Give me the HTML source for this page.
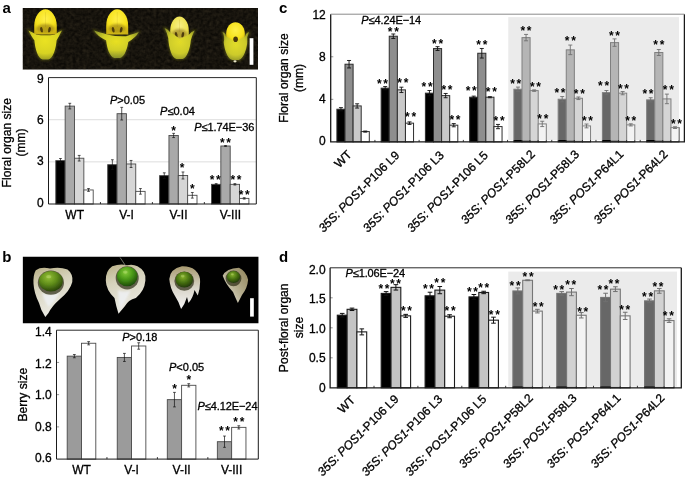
<!DOCTYPE html>
<html lang="en"><head><meta charset="utf-8"><title>Figure</title>
<style>
html,body{margin:0;padding:0;background:#fff;}
svg{display:block;}
text{font-family:"Liberation Sans",sans-serif;fill:#000;stroke:#000;stroke-width:0.3px;}
.pl{font-weight:bold;font-size:15px;fill:#000;stroke:none;}
.st{font-weight:bold;font-size:12px;letter-spacing:1.7px;fill:#000;stroke:none;}
</style></head><body>
<svg width="685" height="480" viewBox="0 0 685 480">
<defs>
<filter id="b1" x="-20%" y="-20%" width="140%" height="140%"><feGaussianBlur stdDeviation="0.55"/></filter>
<filter id="b2" x="-30%" y="-30%" width="160%" height="160%"><feGaussianBlur stdDeviation="1.3"/></filter>
<filter id="noise" x="0" y="0" width="100%" height="100%"><feTurbulence type="fractalNoise" baseFrequency="0.3" numOctaves="2" seed="3" result="n"/><feColorMatrix in="n" type="matrix" values="0 0 0 0 0.16  0 0 0 0 0.12  0 0 0 0 0.06  0.9 0.9 0 0 -0.55"/></filter>
<radialGradient id="pet" cx="50%" cy="38%" r="70%"><stop offset="0" stop-color="#fff04a"/><stop offset="0.6" stop-color="#f6e21c"/><stop offset="1" stop-color="#c9ae12"/></radialGradient>
<radialGradient id="pet2" cx="50%" cy="40%" r="70%"><stop offset="0" stop-color="#f8ef86"/><stop offset="0.6" stop-color="#efe352"/><stop offset="1" stop-color="#c2b22a"/></radialGradient>
<radialGradient id="sep" cx="50%" cy="36%" r="72%"><stop offset="0" stop-color="#eae222"/><stop offset="0.6" stop-color="#d8d324"/><stop offset="1" stop-color="#8c8e22"/></radialGradient>
<radialGradient id="sep2" cx="50%" cy="40%" r="66%"><stop offset="0" stop-color="#e8e022"/><stop offset="0.5" stop-color="#d0ce28"/><stop offset="1" stop-color="#77822a"/></radialGradient>
<radialGradient id="sep3" cx="50%" cy="45%" r="68%"><stop offset="0" stop-color="#e2dc28"/><stop offset="0.55" stop-color="#cdcb2c"/><stop offset="1" stop-color="#7c8224"/></radialGradient>
<radialGradient id="ber" cx="40%" cy="30%" r="72%"><stop offset="0" stop-color="#94c036"/><stop offset="0.5" stop-color="#5f8c1a"/><stop offset="1" stop-color="#26400a"/></radialGradient>
<radialGradient id="ber2" cx="42%" cy="30%" r="72%"><stop offset="0" stop-color="#84cc3a"/><stop offset="0.5" stop-color="#489616"/><stop offset="1" stop-color="#1a4608"/></radialGradient>
<radialGradient id="ber3" cx="42%" cy="32%" r="72%"><stop offset="0" stop-color="#86b22c"/><stop offset="0.5" stop-color="#487212"/><stop offset="1" stop-color="#1e3208"/></radialGradient>
<linearGradient id="husk" x1="0" y1="0" x2="0.3" y2="1"><stop offset="0" stop-color="#b9b086"/><stop offset="0.4" stop-color="#d6d2bc"/><stop offset="1" stop-color="#ecebe4"/></linearGradient>
<linearGradient id="husk3" x1="0" y1="0" x2="0" y2="1"><stop offset="0" stop-color="#a89a70"/><stop offset="0.5" stop-color="#d8d4c8"/><stop offset="1" stop-color="#f4f4f4"/></linearGradient>
<linearGradient id="husk4" x1="1" y1="0" x2="0" y2="1"><stop offset="0" stop-color="#8f8258"/><stop offset="0.55" stop-color="#b9b294"/><stop offset="1" stop-color="#eeeeea"/></linearGradient>
</defs>
<rect width="685" height="480" fill="#fff"/>

<text class="pl" x="2.4" y="13.1">a</text>
<text class="pl" x="2.2" y="261.6">b</text>
<text class="pl" x="279" y="13.2">c</text>
<text class="pl" x="279" y="261.75">d</text>
<rect x="22.8" y="8" width="235.2" height="61.5" fill="#0d0b07"/>
<rect x="22.8" y="8" width="235.2" height="61.5" fill="#1a140a" opacity="0.3" filter="url(#noise)"/>
<g filter="url(#b1)"><path d="M28.4 30.5 Q31.9 31.7 36.5 34.7 Q45.5 36.0 54.5 34.7 Q58.4 31.7 61.9 30.5 Q59.4 35.5 56.6 40.5 C56.0 48.5 53.1 58.7 48.4 59.5 L42.6 59.5 C37.9 58.7 35.0 48.5 34.4 40.5 Q30.9 35.5 28.4 30.5Z" fill="none" stroke="#9a9a22" stroke-width="1.6" opacity="0.5" filter="url(#b2)"/><path d="M34.2 34.5 V25.9 C34.2 16.2 39.9 9.2 45.5 9.2 C51.1 9.2 56.8 16.2 56.8 25.9 V34.5Z" fill="url(#pet)"/><path d="M45.5 12.2 V27.0" stroke="#b79a10" stroke-width="0.6" opacity="0.35"/><ellipse cx="45.5" cy="28.5" rx="9.0" ry="4.5" fill="#7a5e10" opacity="0.5" filter="url(#b2)"/><ellipse cx="41.5" cy="29.8" rx="1.3" ry="2.8" fill="#3d2c08" opacity="0.85" transform="rotate(-12 41.5 29.8)"/><ellipse cx="49.5" cy="29.8" rx="1.3" ry="2.8" fill="#3d2c08" opacity="0.85" transform="rotate(12 49.5 29.8)"/><path d="M28.4 30.5 Q31.9 31.7 36.5 34.7 Q45.5 36.0 54.5 34.7 Q58.4 31.7 61.9 30.5 Q59.4 35.5 56.6 40.5 C56.0 48.5 53.1 58.7 48.4 59.5 L42.6 59.5 C37.9 58.7 35.0 48.5 34.4 40.5 Q30.9 35.5 28.4 30.5Z" fill="url(#sep)"/></g>
<g filter="url(#b1)"><path d="M94.1 30.5 Q97.6 31.7 108.2 34.7 Q117.2 36.8 126.2 36.2 Q135.3 33.2 138.8 32.0 Q136.3 37.0 128.3 42.0 C127.7 47.0 124.8 57.2 120.1 58.0 L114.3 58.0 C109.6 57.2 106.7 47.0 106.1 40.5 Q96.6 35.5 94.1 30.5Z" fill="none" stroke="#9a9a22" stroke-width="1.6" opacity="0.5" filter="url(#b2)"/><path d="M106.2 34.5 V25.7 C106.2 16.1 111.7 9.2 117.2 9.2 C122.7 9.2 128.2 16.1 128.2 25.7 V34.5Z" fill="url(#pet)"/><path d="M117.2 12.2 V27.0" stroke="#b79a10" stroke-width="0.6" opacity="0.35"/><ellipse cx="117.2" cy="28.5" rx="8.8" ry="4.5" fill="#7a5e10" opacity="0.5" filter="url(#b2)"/><ellipse cx="113.2" cy="29.8" rx="1.3" ry="2.8" fill="#3d2c08" opacity="0.85" transform="rotate(-12 113.2 29.8)"/><ellipse cx="121.2" cy="29.8" rx="1.3" ry="2.8" fill="#3d2c08" opacity="0.85" transform="rotate(12 121.2 29.8)"/><path d="M94.1 30.5 Q97.6 31.7 108.2 34.7 Q117.2 36.8 126.2 36.2 Q135.3 33.2 138.8 32.0 Q136.3 37.0 128.3 42.0 C127.7 47.0 124.8 57.2 120.1 58.0 L114.3 58.0 C109.6 57.2 106.7 47.0 106.1 40.5 Q96.6 35.5 94.1 30.5Z" fill="url(#sep2)"/></g>
<g filter="url(#b1)"><path d="M164.6 28.0 Q168.1 29.2 170.2 32.2 Q175.7 35.1 179.5 38.8 Q183.3 37.6 188.8 34.7 Q191.1 31.7 194.6 30.5 Q192.1 35.5 190.8 40.5 C190.2 48.0 187.2 58.2 182.5 59.0 L176.5 59.0 C171.8 58.2 168.8 48.0 168.2 38.0 Q167.1 33.0 164.6 28.0Z" fill="none" stroke="#9a9a22" stroke-width="1.6" opacity="0.5" filter="url(#b2)"/><path d="M170.2 39.8 V30.4 C170.2 22.3 174.9 16.5 179.5 16.5 C184.1 16.5 188.8 22.3 188.8 30.4 V39.8Z" fill="url(#pet2)"/><path d="M179.5 19.5 V32.0" stroke="#b79a10" stroke-width="0.6" opacity="0.35"/><ellipse cx="179.5" cy="33.5" rx="7.4" ry="4.5" fill="#7a5e10" opacity="0.5" filter="url(#b2)"/><ellipse cx="176.2" cy="34.8" rx="1.3" ry="2.8" fill="#3d2c08" opacity="0.85" transform="rotate(-12 176.2 34.8)"/><ellipse cx="182.8" cy="34.8" rx="1.3" ry="2.8" fill="#3d2c08" opacity="0.85" transform="rotate(12 182.8 34.8)"/><path d="M164.6 28.0 Q168.1 29.2 170.2 32.2 Q175.7 35.1 179.5 38.8 Q183.3 37.6 188.8 34.7 Q191.1 31.7 194.6 30.5 Q192.1 35.5 190.8 40.5 C190.2 48.0 187.2 58.2 182.5 59.0 L176.5 59.0 C171.8 58.2 168.8 48.0 168.2 38.0 Q167.1 33.0 164.6 28.0Z" fill="url(#sep3)"/></g>
<g filter="url(#b1)"><path d="M222.5 32.0 Q226.0 33.2 225.8 36.2 Q231.6 39.5 235.5 42.0 Q239.4 39.5 245.2 36.2 Q245.5 33.2 249.0 32.0 Q246.5 37.0 247.3 42.0 C246.8 49.0 243.6 59.2 238.7 60.0 L232.3 60.0 C227.4 59.2 224.2 49.0 223.7 42.0 Q225.0 37.0 222.5 32.0Z" fill="none" stroke="#9a9a22" stroke-width="1.6" opacity="0.5" filter="url(#b2)"/><path d="M226.2 43.0 V33.3 C226.2 26.9 230.9 22.3 235.5 22.3 C240.1 22.3 244.8 26.9 244.8 33.3 V43.0Z" fill="url(#pet)"/><path d="M222.5 32.0 Q226.0 33.2 225.8 36.2 Q231.6 39.5 235.5 42.0 Q239.4 39.5 245.2 36.2 Q245.5 33.2 249.0 32.0 Q246.5 37.0 247.3 42.0 C246.8 49.0 243.6 59.2 238.7 60.0 L232.3 60.0 C227.4 59.2 224.2 49.0 223.7 42.0 Q225.0 37.0 222.5 32.0Z" fill="url(#sep3)"/></g>
<g filter="url(#b1)"><ellipse cx="235.6" cy="39.2" rx="2.3" ry="2.8" fill="#4a380a"/><ellipse cx="235" cy="61.3" rx="1.6" ry="1.1" fill="#e9e6c8"/></g>
<rect x="249.6" y="38.2" width="3.8" height="26.6" fill="#fff"/>
<line x1="48.5" x2="256.3" y1="161.87" y2="161.87" stroke="#cfcfcf" stroke-width="0.7"/>
<line x1="48.5" x2="256.3" y1="119.73" y2="119.73" stroke="#cfcfcf" stroke-width="0.7"/>
<rect x="55.80" y="160.60" width="9.35" height="43.40" fill="#000" stroke="#4a4a4a" stroke-width="0.9"/>
<rect x="65.15" y="106.11" width="9.35" height="97.89" fill="#a9a9a9" stroke="#4a4a4a" stroke-width="0.9"/>
<rect x="74.50" y="158.22" width="9.35" height="45.78" fill="#d6d6d6" stroke="#4a4a4a" stroke-width="0.9"/>
<rect x="83.85" y="189.96" width="9.35" height="14.04" fill="#fff" stroke="#4a4a4a" stroke-width="0.9"/>
<rect x="107.70" y="164.68" width="9.35" height="39.32" fill="#000" stroke="#4a4a4a" stroke-width="0.9"/>
<rect x="117.05" y="113.69" width="9.35" height="90.31" fill="#a9a9a9" stroke="#4a4a4a" stroke-width="0.9"/>
<rect x="126.40" y="163.97" width="9.35" height="40.03" fill="#d6d6d6" stroke="#4a4a4a" stroke-width="0.9"/>
<rect x="135.75" y="191.36" width="9.35" height="12.64" fill="#fff" stroke="#4a4a4a" stroke-width="0.9"/>
<rect x="159.60" y="175.63" width="9.35" height="28.37" fill="#000" stroke="#4a4a4a" stroke-width="0.9"/>
<rect x="168.95" y="135.46" width="9.35" height="68.54" fill="#a9a9a9" stroke="#4a4a4a" stroke-width="0.9"/>
<rect x="178.30" y="175.49" width="9.35" height="28.51" fill="#d6d6d6" stroke="#4a4a4a" stroke-width="0.9"/>
<rect x="187.65" y="195.29" width="9.35" height="8.71" fill="#fff" stroke="#4a4a4a" stroke-width="0.9"/>
<rect x="211.50" y="184.34" width="9.35" height="19.66" fill="#000" stroke="#4a4a4a" stroke-width="0.9"/>
<rect x="220.85" y="146.00" width="9.35" height="58.00" fill="#a9a9a9" stroke="#4a4a4a" stroke-width="0.9"/>
<rect x="230.20" y="184.34" width="9.35" height="19.66" fill="#d6d6d6" stroke="#4a4a4a" stroke-width="0.9"/>
<rect x="239.55" y="198.38" width="9.35" height="5.62" fill="#fff" stroke="#4a4a4a" stroke-width="0.9"/>
<path d="M60.47 158.50V162.71M59.07 158.50H61.87M59.07 162.71H61.87" stroke="#111" stroke-width="0.7" fill="none"/>
<path d="M69.82 103.30V108.92M68.42 103.30H71.22M68.42 108.92H71.22" stroke="#111" stroke-width="0.7" fill="none"/>
<path d="M79.17 155.41V161.02M77.77 155.41H80.58M77.77 161.02H80.58" stroke="#111" stroke-width="0.7" fill="none"/>
<path d="M88.52 188.55V191.36M87.12 188.55H89.92M87.12 191.36H89.92" stroke="#111" stroke-width="0.7" fill="none"/>
<path d="M112.37 159.76V169.59M110.97 159.76H113.77M110.97 169.59H113.77" stroke="#111" stroke-width="0.7" fill="none"/>
<path d="M121.72 107.37V120.01M120.32 107.37H123.12M120.32 120.01H123.12" stroke="#111" stroke-width="0.7" fill="none"/>
<path d="M131.07 160.46V167.48M129.67 160.46H132.47M129.67 167.48H132.47" stroke="#111" stroke-width="0.7" fill="none"/>
<path d="M140.43 188.55V194.17M139.03 188.55H141.83M139.03 194.17H141.83" stroke="#111" stroke-width="0.7" fill="none"/>
<path d="M164.28 172.82V178.44M162.88 172.82H165.68M162.88 178.44H165.68" stroke="#111" stroke-width="0.7" fill="none"/>
<path d="M173.62 133.36V137.57M172.22 133.36H175.03M172.22 137.57H175.03" stroke="#111" stroke-width="0.7" fill="none"/>
<path d="M182.97 171.98V179.00M181.57 171.98H184.38M181.57 179.00H184.38" stroke="#111" stroke-width="0.7" fill="none"/>
<path d="M192.32 192.48V198.10M190.92 192.48H193.72M190.92 198.10H193.72" stroke="#111" stroke-width="0.7" fill="none"/>
<path d="M216.18 183.64V185.04M214.78 183.64H217.58M214.78 185.04H217.58" stroke="#111" stroke-width="0.7" fill="none"/>
<path d="M225.53 145.60V146.40M224.12 145.60H226.93M224.12 146.40H226.93" stroke="#111" stroke-width="0.7" fill="none"/>
<path d="M234.88 183.64V185.04M233.47 183.64H236.28M233.47 185.04H236.28" stroke="#111" stroke-width="0.7" fill="none"/>
<path d="M244.23 197.68V199.08M242.83 197.68H245.63M242.83 199.08H245.63" stroke="#111" stroke-width="0.7" fill="none"/>
<text class="st" x="171.3" y="134.9">*</text>
<text class="st" x="179.7" y="171.7">*</text>
<text class="st" x="190.0" y="192.7">*</text>
<text class="st" x="209.7" y="183.6">**</text>
<text class="st" x="220.0" y="146.7">**</text>
<text class="st" x="230.4" y="184.0">**</text>
<text class="st" x="238.7" y="199.2">**</text>
<line x1="100.45" x2="100.45" y1="202.0" y2="204.0" stroke="#222" stroke-width="0.9"/>
<line x1="152.40" x2="152.40" y1="202.0" y2="204.0" stroke="#222" stroke-width="0.9"/>
<line x1="204.35" x2="204.35" y1="202.0" y2="204.0" stroke="#222" stroke-width="0.9"/>
<path d="M48.5 77.6V204.0H256.3V77.6" stroke="#1a1a1a" stroke-width="1.0" fill="none"/>
<path d="M48.5 77.6H256.3" stroke="#2a2a2a" stroke-width="1" fill="none"/>
<text x="43.6" y="206.8" text-anchor="end" font-size="12">0</text>
<text x="43.6" y="165.4" text-anchor="end" font-size="12">3</text>
<text x="43.6" y="124.1" text-anchor="end" font-size="12">6</text>
<text x="43.6" y="82.7" text-anchor="end" font-size="12">9</text>
<text transform="translate(11.0 142.7) rotate(-90)" text-anchor="middle" font-size="12.1">Floral organ size</text>
<text transform="translate(24.8 142.5) rotate(-90)" text-anchor="middle" font-size="12.1">(mm)</text>
<text x="74.7" y="218.8" text-anchor="middle" font-size="12">WT</text>
<text x="126.6" y="218.8" text-anchor="middle" font-size="12">V-I</text>
<text x="178.5" y="218.8" text-anchor="middle" font-size="12">V-II</text>
<text x="230.4" y="218.8" text-anchor="middle" font-size="12">V-III</text>
<text x="109.9" y="104.2" font-size="11"><tspan font-style="italic">P</tspan>&gt;0.05</text>
<text x="160.1" y="115.1" font-size="11"><tspan font-style="italic">P</tspan>≤0.04</text>
<text x="194.3" y="131" font-size="11" textLength="60" lengthAdjust="spacing"><tspan font-style="italic">P</tspan>≤1.74E−36</text>
<rect x="22.85" y="256.75" width="235.6" height="66.5" fill="#010101"/>
<g filter="url(#b1)"><path d="M35.8 270.2 Q41 266.5 50 268.5 Q60 266.8 67.5 269.4 Q73.5 274 72.3 282.1 Q70 291 60 299 Q52 306 48.5 313 L45.3 316.9 Q41 311 39 303 Q34 293 33.5 283.7 Q33 275 35.8 270.2Z" fill="url(#husk)"/><path d="M42 293 Q50 296 60 292 Q56 300 49 307 Q45 303 42 293Z" fill="#eef0f2" opacity="0.9" filter="url(#b2)"/><ellipse cx="50.9" cy="282.7" rx="13.1" ry="12.1" fill="#2a2a12" opacity="0.7"/><ellipse cx="50.9" cy="281.3" rx="11.9" ry="10.3" fill="url(#ber)"/><ellipse cx="48.8" cy="276.7" rx="2.6" ry="1.6" fill="#dff0a0" opacity="0.3"/></g>
<g filter="url(#b1)"><path d="M112.2 266.3 Q120 263.5 127 265.2 Q133 263.8 137.5 266.3 Q146.5 271 145.4 280.5 Q144.5 291 135.9 297.9 Q128 300 125 306 L118.5 313.8 Q116 306 114.5 298 Q106 290 105.8 280.5 Q105.5 271 112.2 266.3Z" fill="url(#husk)"/><path d="M118 290 Q124 293 131 290 Q127 299 120.5 309 Q118 300 118 290Z" fill="#eef0f2" opacity="0.9" filter="url(#b2)"/><ellipse cx="127.2" cy="277.9" rx="11.5" ry="11.6" fill="#2a2a12" opacity="0.7"/><ellipse cx="127.2" cy="276.5" rx="10.3" ry="9.8" fill="url(#ber2)"/><ellipse cx="125.3" cy="272.1" rx="2.3" ry="1.6" fill="#dff0a0" opacity="0.3"/><path d="M120.1 257.5 L125.6 265.8" stroke="#8a8a80" stroke-width="0.8" fill="none"/></g>
<g filter="url(#b1)"><path d="M181.9 266.3 Q190 266 195 270 Q200.5 275 200.1 282.1 Q200 290 197.8 295.6 L194.5 290 Q193 298 188.5 303 L187 297 Q185 304 181.1 309 Q179 302 175 296 Q170 288 169.3 278.9 Q170 269 181.9 266.3Z" fill="url(#husk3)"/><ellipse cx="184.3" cy="281.1" rx="9.9" ry="9.7" fill="#2a2a12" opacity="0.7"/><ellipse cx="184.3" cy="279.7" rx="8.7" ry="7.9" fill="url(#ber3)"/><ellipse cx="182.7" cy="276.1" rx="1.9" ry="1.3" fill="#dff0a0" opacity="0.3"/></g>
<g filter="url(#b1)"><path d="M239 267.8 Q246 271 248.1 279.7 Q247.5 288 242 295 L237.9 303 Q235.5 298 233 292 Q226 285 222.7 275.8 Q226 268.5 239 267.8Z" fill="url(#husk4)"/><ellipse cx="233.5" cy="278.4" rx="7.9" ry="7.8" fill="#2a2a12" opacity="0.7"/><ellipse cx="233.5" cy="277.0" rx="6.7" ry="6.0" fill="url(#ber3)"/><ellipse cx="232.3" cy="274.3" rx="1.5" ry="1.0" fill="#dff0a0" opacity="0.3"/></g>
<rect x="250.1" y="298.2" width="3.7" height="18.4" fill="#fff"/>
<line x1="56.5" x2="59.1" y1="426.88" y2="426.88" stroke="#777" stroke-width="0.8"/>
<line x1="56.5" x2="59.1" y1="394.65" y2="394.65" stroke="#777" stroke-width="0.8"/>
<line x1="56.5" x2="59.1" y1="362.43" y2="362.43" stroke="#777" stroke-width="0.8"/>
<rect x="67.20" y="356.14" width="14.30" height="102.96" fill="#9b9b9b" stroke="#4a4a4a" stroke-width="0.9"/>
<rect x="81.50" y="343.25" width="14.30" height="115.85" fill="#fff" stroke="#4a4a4a" stroke-width="0.9"/>
<rect x="117.25" y="357.43" width="14.30" height="101.67" fill="#9b9b9b" stroke="#4a4a4a" stroke-width="0.9"/>
<rect x="131.55" y="345.99" width="14.30" height="113.11" fill="#fff" stroke="#4a4a4a" stroke-width="0.9"/>
<rect x="167.30" y="399.64" width="14.30" height="59.46" fill="#9b9b9b" stroke="#4a4a4a" stroke-width="0.9"/>
<rect x="181.60" y="385.30" width="14.30" height="73.80" fill="#fff" stroke="#4a4a4a" stroke-width="0.9"/>
<rect x="217.35" y="441.70" width="14.30" height="17.40" fill="#9b9b9b" stroke="#4a4a4a" stroke-width="0.9"/>
<rect x="231.65" y="427.36" width="14.30" height="31.74" fill="#fff" stroke="#4a4a4a" stroke-width="0.9"/>
<path d="M74.35 354.53V357.75M72.95 354.53H75.75M72.95 357.75H75.75" stroke="#111" stroke-width="0.7" fill="none"/>
<path d="M88.65 341.64V344.86M87.25 341.64H90.05M87.25 344.86H90.05" stroke="#111" stroke-width="0.7" fill="none"/>
<path d="M124.40 353.40V361.46M123.00 353.40H125.80M123.00 361.46H125.80" stroke="#111" stroke-width="0.7" fill="none"/>
<path d="M138.70 342.77V349.21M137.30 342.77H140.10M137.30 349.21H140.10" stroke="#111" stroke-width="0.7" fill="none"/>
<path d="M174.45 392.39V406.90M173.05 392.39H175.85M173.05 406.90H175.85" stroke="#111" stroke-width="0.7" fill="none"/>
<path d="M188.75 383.69V386.92M187.35 383.69H190.15M187.35 386.92H190.15" stroke="#111" stroke-width="0.7" fill="none"/>
<path d="M224.50 436.06V447.34M223.10 436.06H225.90M223.10 447.34H225.90" stroke="#111" stroke-width="0.7" fill="none"/>
<path d="M238.80 425.75V428.97M237.40 425.75H240.20M237.40 428.97H240.20" stroke="#111" stroke-width="0.7" fill="none"/>
<text class="st" x="172.2" y="392.5">*</text>
<text class="st" x="186.5" y="384.1">*</text>
<text class="st" x="219.0" y="434.8">**</text>
<text class="st" x="233.3" y="425.8">**</text>
<line x1="106.95" x2="106.95" y1="457.1" y2="459.1" stroke="#222" stroke-width="0.9"/>
<line x1="157.40" x2="157.40" y1="457.1" y2="459.1" stroke="#222" stroke-width="0.9"/>
<line x1="207.85" x2="207.85" y1="457.1" y2="459.1" stroke="#222" stroke-width="0.9"/>
<path d="M56.5 330.2V459.1H258.3V330.2" stroke="#1a1a1a" stroke-width="1.0" fill="none"/>
<path d="M56.5 330.2H258.3" stroke="#2a2a2a" stroke-width="1" fill="none"/>
<text x="51.8" y="462.2" text-anchor="end" font-size="12">0.6</text>
<text x="51.8" y="430.6" text-anchor="end" font-size="12">0.8</text>
<text x="51.8" y="399.1" text-anchor="end" font-size="12">1.0</text>
<text x="51.8" y="367.5" text-anchor="end" font-size="12">1.2</text>
<text x="51.8" y="335.9" text-anchor="end" font-size="12">1.4</text>
<text transform="translate(26.5 394.6) rotate(-90)" text-anchor="middle" font-size="12.1">Berry size</text>
<text x="81.5" y="473.6" text-anchor="middle" font-size="12">WT</text>
<text x="131.6" y="473.6" text-anchor="middle" font-size="12">V-I</text>
<text x="181.6" y="473.6" text-anchor="middle" font-size="12">V-II</text>
<text x="231.6" y="473.6" text-anchor="middle" font-size="12">V-III</text>
<text x="122.2" y="340.5" font-size="11"><tspan font-style="italic">P</tspan>&gt;0.18</text>
<text x="169" y="371.3" font-size="11"><tspan font-style="italic">P</tspan>&lt;0.05</text>
<text x="197.5" y="410.3" font-size="11" textLength="60" lengthAdjust="spacing"><tspan font-style="italic">P</tspan>≤4.12E−24</text>
<line x1="330.7" x2="333.3" y1="99.33" y2="99.33" stroke="#777" stroke-width="0.8"/>
<line x1="330.7" x2="333.3" y1="56.77" y2="56.77" stroke="#777" stroke-width="0.8"/>
<rect x="508.3" y="17.2" width="170.7" height="122.8" fill="#f1f1f1"/>
<rect x="336.90" y="109.23" width="8.10" height="32.67" fill="#000" stroke="#2e2e2e" stroke-width="1.0"/>
<rect x="345.00" y="64.22" width="8.10" height="77.68" fill="#8e8e8e" stroke="#2e2e2e" stroke-width="1.0"/>
<rect x="353.10" y="105.93" width="8.10" height="35.97" fill="#c9c9c9" stroke="#2e2e2e" stroke-width="1.0"/>
<rect x="361.20" y="131.58" width="8.10" height="10.32" fill="#fff" stroke="#2e2e2e" stroke-width="1.0"/>
<rect x="381.15" y="88.16" width="8.10" height="53.74" fill="#000" stroke="#2e2e2e" stroke-width="1.0"/>
<rect x="389.25" y="36.23" width="8.10" height="105.67" fill="#8e8e8e" stroke="#2e2e2e" stroke-width="1.0"/>
<rect x="397.35" y="89.86" width="8.10" height="52.04" fill="#c9c9c9" stroke="#2e2e2e" stroke-width="1.0"/>
<rect x="405.45" y="123.17" width="8.10" height="18.73" fill="#fff" stroke="#2e2e2e" stroke-width="1.0"/>
<rect x="425.40" y="93.16" width="8.10" height="48.74" fill="#000" stroke="#2e2e2e" stroke-width="1.0"/>
<rect x="433.50" y="48.57" width="8.10" height="93.33" fill="#8e8e8e" stroke="#2e2e2e" stroke-width="1.0"/>
<rect x="441.60" y="95.61" width="8.10" height="46.29" fill="#c9c9c9" stroke="#2e2e2e" stroke-width="1.0"/>
<rect x="449.70" y="125.19" width="8.10" height="16.71" fill="#fff" stroke="#2e2e2e" stroke-width="1.0"/>
<rect x="469.65" y="97.20" width="8.10" height="44.70" fill="#000" stroke="#2e2e2e" stroke-width="1.0"/>
<rect x="477.75" y="53.25" width="8.10" height="88.65" fill="#8e8e8e" stroke="#2e2e2e" stroke-width="1.0"/>
<rect x="485.85" y="97.20" width="8.10" height="44.70" fill="#c9c9c9" stroke="#2e2e2e" stroke-width="1.0"/>
<rect x="493.95" y="126.58" width="8.10" height="15.32" fill="#fff" stroke="#2e2e2e" stroke-width="1.0"/>
<rect x="513.90" y="89.22" width="8.10" height="52.68" fill="#000" stroke="#2e2e2e" stroke-width="1.0"/>
<rect x="522.00" y="37.61" width="8.10" height="104.29" fill="#8e8e8e" stroke="#2e2e2e" stroke-width="1.0"/>
<rect x="530.10" y="90.61" width="8.10" height="51.29" fill="#c9c9c9" stroke="#2e2e2e" stroke-width="1.0"/>
<rect x="538.20" y="123.92" width="8.10" height="17.98" fill="#fff" stroke="#2e2e2e" stroke-width="1.0"/>
<rect x="558.15" y="99.23" width="8.10" height="42.67" fill="#000" stroke="#2e2e2e" stroke-width="1.0"/>
<rect x="566.25" y="49.85" width="8.10" height="92.05" fill="#8e8e8e" stroke="#2e2e2e" stroke-width="1.0"/>
<rect x="574.35" y="98.27" width="8.10" height="43.63" fill="#c9c9c9" stroke="#2e2e2e" stroke-width="1.0"/>
<rect x="582.45" y="125.94" width="8.10" height="15.96" fill="#fff" stroke="#2e2e2e" stroke-width="1.0"/>
<rect x="602.40" y="92.63" width="8.10" height="49.27" fill="#000" stroke="#2e2e2e" stroke-width="1.0"/>
<rect x="610.50" y="42.61" width="8.10" height="99.29" fill="#8e8e8e" stroke="#2e2e2e" stroke-width="1.0"/>
<rect x="618.60" y="93.16" width="8.10" height="48.74" fill="#c9c9c9" stroke="#2e2e2e" stroke-width="1.0"/>
<rect x="626.70" y="124.87" width="8.10" height="17.03" fill="#fff" stroke="#2e2e2e" stroke-width="1.0"/>
<rect x="646.65" y="99.87" width="8.10" height="42.03" fill="#000" stroke="#2e2e2e" stroke-width="1.0"/>
<rect x="654.75" y="52.51" width="8.10" height="89.39" fill="#8e8e8e" stroke="#2e2e2e" stroke-width="1.0"/>
<rect x="662.85" y="98.91" width="8.10" height="42.99" fill="#c9c9c9" stroke="#2e2e2e" stroke-width="1.0"/>
<rect x="670.95" y="127.64" width="8.10" height="14.26" fill="#fff" stroke="#2e2e2e" stroke-width="1.0"/>
<path d="M340.95 107.63V110.83M338.95 107.63H342.95M338.95 110.83H342.95" stroke="#111" stroke-width="0.9" fill="none"/>
<path d="M349.05 60.49V67.94M347.05 60.49H351.05M347.05 67.94H351.05" stroke="#111" stroke-width="0.9" fill="none"/>
<path d="M357.15 103.80V108.06M355.15 103.80H359.15M355.15 108.06H359.15" stroke="#111" stroke-width="0.9" fill="none"/>
<path d="M365.25 131.05V132.11M363.25 131.05H367.25M363.25 132.11H367.25" stroke="#111" stroke-width="0.9" fill="none"/>
<path d="M385.20 86.56V89.76M383.20 86.56H387.20M383.20 89.76H387.20" stroke="#111" stroke-width="0.9" fill="none"/>
<path d="M393.30 33.99V38.46M391.30 33.99H395.30M391.30 38.46H395.30" stroke="#111" stroke-width="0.9" fill="none"/>
<path d="M401.40 87.20V92.52M399.40 87.20H403.40M399.40 92.52H403.40" stroke="#111" stroke-width="0.9" fill="none"/>
<path d="M409.50 121.89V124.45M407.50 121.89H411.50M407.50 124.45H411.50" stroke="#111" stroke-width="0.9" fill="none"/>
<path d="M429.45 90.50V95.82M427.45 90.50H431.45M427.45 95.82H431.45" stroke="#111" stroke-width="0.9" fill="none"/>
<path d="M437.55 46.66V50.49M435.55 46.66H439.55M435.55 50.49H439.55" stroke="#111" stroke-width="0.9" fill="none"/>
<path d="M445.65 93.48V97.74M443.65 93.48H447.65M443.65 97.74H447.65" stroke="#111" stroke-width="0.9" fill="none"/>
<path d="M453.75 123.60V126.79M451.75 123.60H455.75M451.75 126.79H455.75" stroke="#111" stroke-width="0.9" fill="none"/>
<path d="M473.70 96.14V98.27M471.70 96.14H475.70M471.70 98.27H475.70" stroke="#111" stroke-width="0.9" fill="none"/>
<path d="M481.80 48.47V58.04M479.80 48.47H483.80M479.80 58.04H483.80" stroke="#111" stroke-width="0.9" fill="none"/>
<path d="M489.90 96.67V97.74M487.90 96.67H491.90M487.90 97.74H491.90" stroke="#111" stroke-width="0.9" fill="none"/>
<path d="M498.00 124.45V128.70M496.00 124.45H500.00M496.00 128.70H500.00" stroke="#111" stroke-width="0.9" fill="none"/>
<path d="M517.95 87.10V91.35M515.95 87.10H519.95M515.95 91.35H519.95" stroke="#111" stroke-width="0.9" fill="none"/>
<path d="M526.05 34.42V40.80M524.05 34.42H528.05M524.05 40.80H528.05" stroke="#111" stroke-width="0.9" fill="none"/>
<path d="M534.15 89.86V91.35M532.15 89.86H536.15M532.15 91.35H536.15" stroke="#111" stroke-width="0.9" fill="none"/>
<path d="M542.25 121.26V126.58M540.25 121.26H544.25M540.25 126.58H544.25" stroke="#111" stroke-width="0.9" fill="none"/>
<path d="M562.20 96.57V101.89M560.20 96.57H564.20M560.20 101.89H564.20" stroke="#111" stroke-width="0.9" fill="none"/>
<path d="M570.30 45.06V54.64M568.30 45.06H572.30M568.30 54.64H572.30" stroke="#111" stroke-width="0.9" fill="none"/>
<path d="M578.40 96.99V99.55M576.40 96.99H580.40M576.40 99.55H580.40" stroke="#111" stroke-width="0.9" fill="none"/>
<path d="M586.50 124.02V127.85M584.50 124.02H588.50M584.50 127.85H588.50" stroke="#111" stroke-width="0.9" fill="none"/>
<path d="M606.45 90.50V94.76M604.45 90.50H608.45M604.45 94.76H608.45" stroke="#111" stroke-width="0.9" fill="none"/>
<path d="M614.55 38.89V46.34M612.55 38.89H616.55M612.55 46.34H616.55" stroke="#111" stroke-width="0.9" fill="none"/>
<path d="M622.65 91.56V94.76M620.65 91.56H624.65M620.65 94.76H624.65" stroke="#111" stroke-width="0.9" fill="none"/>
<path d="M630.75 123.81V125.94M628.75 123.81H632.75M628.75 125.94H632.75" stroke="#111" stroke-width="0.9" fill="none"/>
<path d="M650.70 97.74V101.99M648.70 97.74H652.70M648.70 101.99H652.70" stroke="#111" stroke-width="0.9" fill="none"/>
<path d="M658.80 49.53V55.49M656.80 49.53H660.80M656.80 55.49H660.80" stroke="#111" stroke-width="0.9" fill="none"/>
<path d="M666.90 94.12V103.70M664.90 94.12H668.90M664.90 103.70H668.90" stroke="#111" stroke-width="0.9" fill="none"/>
<path d="M675.00 126.79V128.49M673.00 126.79H677.00M673.00 128.49H677.00" stroke="#111" stroke-width="0.9" fill="none"/>
<rect x="508.3" y="17.2" width="170.7" height="122.8" fill="#e4e4e4" fill-opacity="0.45"/>
<text class="st" x="376.9" y="88.1">**</text>
<text class="st" x="387.8" y="35.5">**</text>
<text class="st" x="397.3" y="87.0">**</text>
<text class="st" x="405.1" y="120.9">**</text>
<text class="st" x="421.6" y="91.2">**</text>
<text class="st" x="432.1" y="47.7">**</text>
<text class="st" x="441.5" y="93.6">**</text>
<text class="st" x="449.4" y="123.7">**</text>
<text class="st" x="465.7" y="94.8">**</text>
<text class="st" x="476.3" y="48.6">**</text>
<text class="st" x="485.8" y="95.9">**</text>
<text class="st" x="493.6" y="124.5">**</text>
<text class="st" x="510.2" y="88.0">**</text>
<text class="st" x="520.5" y="35.1">**</text>
<text class="st" x="530.0" y="91.4">**</text>
<text class="st" x="537.3" y="122.8">**</text>
<text class="st" x="554.4" y="97.3">**</text>
<text class="st" x="564.8" y="45.2">**</text>
<text class="st" x="573.8" y="97.9">**</text>
<text class="st" x="581.9" y="124.7">**</text>
<text class="st" x="598.1" y="90.3">**</text>
<text class="st" x="609.0" y="39.6">**</text>
<text class="st" x="618.0" y="92.5">**</text>
<text class="st" x="625.2" y="124.5">**</text>
<text class="st" x="642.4" y="98.4">**</text>
<text class="st" x="653.3" y="49.0">**</text>
<text class="st" x="662.8" y="93.6">**</text>
<text class="st" x="670.9" y="127.5">**</text>
<line x1="374.91" x2="374.91" y1="139.9" y2="141.9" stroke="#222" stroke-width="0.9"/>
<line x1="419.12" x2="419.12" y1="139.9" y2="141.9" stroke="#222" stroke-width="0.9"/>
<line x1="463.34" x2="463.34" y1="139.9" y2="141.9" stroke="#222" stroke-width="0.9"/>
<line x1="507.55" x2="507.55" y1="139.9" y2="141.9" stroke="#222" stroke-width="0.9"/>
<line x1="551.76" x2="551.76" y1="139.9" y2="141.9" stroke="#222" stroke-width="0.9"/>
<line x1="595.97" x2="595.97" y1="139.9" y2="141.9" stroke="#222" stroke-width="0.9"/>
<line x1="640.19" x2="640.19" y1="139.9" y2="141.9" stroke="#222" stroke-width="0.9"/>
<path d="M330.7 14.2V141.9H684.4V14.2" stroke="#1a1a1a" stroke-width="1.3" fill="none"/>
<path d="M330.7 14.2H684.4" stroke="#8a8a8a" stroke-width="1" fill="none"/>
<text x="325.8" y="144.8" text-anchor="end" font-size="12">0</text>
<text x="325.8" y="102.7" text-anchor="end" font-size="12">4</text>
<text x="325.8" y="60.6" text-anchor="end" font-size="12">8</text>
<text x="325.8" y="18.5" text-anchor="end" font-size="12">12</text>
<text transform="translate(288.1 78) rotate(-90)" text-anchor="middle" font-size="12.1">Floral organ size</text>
<text transform="translate(302.6 78) rotate(-90)" text-anchor="middle" font-size="12.1">(mm)</text>
<text x="361.2" y="24.3" font-size="11" textLength="60" lengthAdjust="spacing"><tspan font-style="italic">P</tspan>≤4.24E−14</text>
<text transform="translate(352.5 155.4) rotate(-45)" text-anchor="end" font-size="12">WT</text>
<text transform="translate(400.3 156.0) rotate(-45)" text-anchor="end" font-size="12"><tspan font-style="italic">35S: POS1</tspan>-P106 L9</text>
<text transform="translate(444.6 156.0) rotate(-45)" text-anchor="end" font-size="12"><tspan font-style="italic">35S: POS1</tspan>-P106 L3</text>
<text transform="translate(488.8 156.0) rotate(-45)" text-anchor="end" font-size="12"><tspan font-style="italic">35S: POS1</tspan>-P106 L5</text>
<text transform="translate(535.6 155.0) rotate(-45)" text-anchor="end" font-size="12"><tspan font-style="italic">35S: POS1</tspan>-P58L2</text>
<text transform="translate(579.9 155.0) rotate(-45)" text-anchor="end" font-size="12"><tspan font-style="italic">35S: POS1</tspan>-P58L3</text>
<text transform="translate(624.1 155.0) rotate(-45)" text-anchor="end" font-size="12"><tspan font-style="italic">35S: POS1</tspan>-P64L1</text>
<text transform="translate(668.4 155.0) rotate(-45)" text-anchor="end" font-size="12"><tspan font-style="italic">35S: POS1</tspan>-P64L2</text>
<line x1="330.1" x2="332.70000000000005" y1="357.80" y2="357.80" stroke="#777" stroke-width="0.8"/>
<line x1="330.1" x2="332.70000000000005" y1="327.80" y2="327.80" stroke="#777" stroke-width="0.8"/>
<line x1="330.1" x2="332.70000000000005" y1="297.80" y2="297.80" stroke="#777" stroke-width="0.8"/>
<rect x="508.3" y="271.7" width="168.7" height="114.80000000000001" fill="#f1f1f1"/>
<rect x="337.30" y="315.20" width="9.80" height="72.60" fill="#000" stroke="#1c1c1c" stroke-width="1.1"/>
<rect x="347.10" y="309.32" width="9.80" height="78.48" fill="#c4c4c4" stroke="#1c1c1c" stroke-width="1.1"/>
<rect x="356.90" y="331.88" width="9.80" height="55.92" fill="#fff" stroke="#1c1c1c" stroke-width="1.1"/>
<rect x="381.20" y="293.42" width="9.80" height="94.38" fill="#000" stroke="#1c1c1c" stroke-width="1.1"/>
<rect x="391.00" y="287.36" width="9.80" height="100.44" fill="#c4c4c4" stroke="#1c1c1c" stroke-width="1.1"/>
<rect x="400.80" y="315.86" width="9.80" height="71.94" fill="#fff" stroke="#1c1c1c" stroke-width="1.1"/>
<rect x="425.10" y="295.82" width="9.80" height="91.98" fill="#000" stroke="#1c1c1c" stroke-width="1.1"/>
<rect x="434.90" y="290.12" width="9.80" height="97.68" fill="#c4c4c4" stroke="#1c1c1c" stroke-width="1.1"/>
<rect x="444.70" y="316.22" width="9.80" height="71.58" fill="#fff" stroke="#1c1c1c" stroke-width="1.1"/>
<rect x="469.00" y="296.90" width="9.80" height="90.90" fill="#000" stroke="#1c1c1c" stroke-width="1.1"/>
<rect x="478.80" y="292.46" width="9.80" height="95.34" fill="#c4c4c4" stroke="#1c1c1c" stroke-width="1.1"/>
<rect x="488.60" y="320.18" width="9.80" height="67.62" fill="#fff" stroke="#1c1c1c" stroke-width="1.1"/>
<rect x="512.90" y="290.96" width="9.80" height="96.84" fill="#000" stroke="#1c1c1c" stroke-width="1.1"/>
<rect x="522.70" y="280.28" width="9.80" height="107.52" fill="#c4c4c4" stroke="#1c1c1c" stroke-width="1.1"/>
<rect x="532.50" y="311.12" width="9.80" height="76.68" fill="#fff" stroke="#1c1c1c" stroke-width="1.1"/>
<rect x="556.80" y="293.42" width="9.80" height="94.38" fill="#000" stroke="#1c1c1c" stroke-width="1.1"/>
<rect x="566.60" y="292.10" width="9.80" height="95.70" fill="#c4c4c4" stroke="#1c1c1c" stroke-width="1.1"/>
<rect x="576.40" y="315.26" width="9.80" height="72.54" fill="#fff" stroke="#1c1c1c" stroke-width="1.1"/>
<rect x="600.70" y="297.44" width="9.80" height="90.36" fill="#000" stroke="#1c1c1c" stroke-width="1.1"/>
<rect x="610.50" y="289.16" width="9.80" height="98.64" fill="#c4c4c4" stroke="#1c1c1c" stroke-width="1.1"/>
<rect x="620.30" y="315.86" width="9.80" height="71.94" fill="#fff" stroke="#1c1c1c" stroke-width="1.1"/>
<rect x="644.60" y="300.86" width="9.80" height="86.94" fill="#000" stroke="#1c1c1c" stroke-width="1.1"/>
<rect x="654.40" y="290.84" width="9.80" height="96.96" fill="#c4c4c4" stroke="#1c1c1c" stroke-width="1.1"/>
<rect x="664.20" y="320.60" width="9.80" height="67.20" fill="#fff" stroke="#1c1c1c" stroke-width="1.1"/>
<path d="M342.20 313.40V317.00M339.90 313.40H344.50M339.90 317.00H344.50" stroke="#111" stroke-width="1.0" fill="none"/>
<path d="M352.00 308.12V310.52M349.70 308.12H354.30M349.70 310.52H354.30" stroke="#111" stroke-width="1.0" fill="none"/>
<path d="M361.80 328.88V334.88M359.50 328.88H364.10M359.50 334.88H364.10" stroke="#111" stroke-width="1.0" fill="none"/>
<path d="M386.10 291.62V295.22M383.80 291.62H388.40M383.80 295.22H388.40" stroke="#111" stroke-width="1.0" fill="none"/>
<path d="M395.90 284.66V290.06M393.60 284.66H398.20M393.60 290.06H398.20" stroke="#111" stroke-width="1.0" fill="none"/>
<path d="M405.70 314.36V317.36M403.40 314.36H408.00M403.40 317.36H408.00" stroke="#111" stroke-width="1.0" fill="none"/>
<path d="M430.00 292.22V299.42M427.70 292.22H432.30M427.70 299.42H432.30" stroke="#111" stroke-width="1.0" fill="none"/>
<path d="M439.80 286.52V293.72M437.50 286.52H442.10M437.50 293.72H442.10" stroke="#111" stroke-width="1.0" fill="none"/>
<path d="M449.60 314.72V317.72M447.30 314.72H451.90M447.30 317.72H451.90" stroke="#111" stroke-width="1.0" fill="none"/>
<path d="M473.90 294.50V299.30M471.60 294.50H476.20M471.60 299.30H476.20" stroke="#111" stroke-width="1.0" fill="none"/>
<path d="M483.70 291.26V293.66M481.40 291.26H486.00M481.40 293.66H486.00" stroke="#111" stroke-width="1.0" fill="none"/>
<path d="M493.50 317.18V323.18M491.20 317.18H495.80M491.20 323.18H495.80" stroke="#111" stroke-width="1.0" fill="none"/>
<path d="M517.80 287.96V293.96M515.50 287.96H520.10M515.50 293.96H520.10" stroke="#111" stroke-width="1.0" fill="none"/>
<path d="M527.60 279.88V280.68M525.30 279.88H529.90M525.30 280.68H529.90" stroke="#111" stroke-width="1.0" fill="none"/>
<path d="M537.40 309.32V312.92M535.10 309.32H539.70M535.10 312.92H539.70" stroke="#111" stroke-width="1.0" fill="none"/>
<path d="M561.70 291.62V295.22M559.40 291.62H564.00M559.40 295.22H564.00" stroke="#111" stroke-width="1.0" fill="none"/>
<path d="M571.50 288.50V295.70M569.20 288.50H573.80M569.20 295.70H573.80" stroke="#111" stroke-width="1.0" fill="none"/>
<path d="M581.30 312.56V317.96M579.00 312.56H583.60M579.00 317.96H583.60" stroke="#111" stroke-width="1.0" fill="none"/>
<path d="M605.60 293.24V301.64M603.30 293.24H607.90M603.30 301.64H607.90" stroke="#111" stroke-width="1.0" fill="none"/>
<path d="M615.40 286.76V291.56M613.10 286.76H617.70M613.10 291.56H617.70" stroke="#111" stroke-width="1.0" fill="none"/>
<path d="M625.20 312.26V319.46M622.90 312.26H627.50M622.90 319.46H627.50" stroke="#111" stroke-width="1.0" fill="none"/>
<path d="M649.50 299.06V302.66M647.20 299.06H651.80M647.20 302.66H651.80" stroke="#111" stroke-width="1.0" fill="none"/>
<path d="M659.30 288.44V293.24M657.00 288.44H661.60M657.00 293.24H661.60" stroke="#111" stroke-width="1.0" fill="none"/>
<path d="M669.10 318.80V322.40M666.80 318.80H671.40M666.80 322.40H671.40" stroke="#111" stroke-width="1.0" fill="none"/>
<rect x="508.3" y="271.7" width="168.7" height="114.80000000000001" fill="#e4e4e4" fill-opacity="0.45"/>
<text class="st" x="378.4" y="293.1">**</text>
<text class="st" x="389.9" y="287.6">**</text>
<text class="st" x="401.0" y="315.1">**</text>
<text class="st" x="422.9" y="293.4">**</text>
<text class="st" x="434.3" y="287.2">**</text>
<text class="st" x="444.6" y="315.4">**</text>
<text class="st" x="467.0" y="296.3">**</text>
<text class="st" x="478.2" y="292.0">**</text>
<text class="st" x="488.8" y="318.7">**</text>
<text class="st" x="509.6" y="289.5">**</text>
<text class="st" x="522.6" y="281.2">**</text>
<text class="st" x="532.7" y="310.8">**</text>
<text class="st" x="553.2" y="294.2">**</text>
<text class="st" x="565.2" y="288.7">**</text>
<text class="st" x="577.2" y="315.8">**</text>
<text class="st" x="597.4" y="293.9">**</text>
<text class="st" x="608.5" y="288.0">**</text>
<text class="st" x="619.2" y="313.5">**</text>
<text class="st" x="642.1" y="301.1">**</text>
<text class="st" x="652.4" y="291.0">**</text>
<text class="st" x="662.8" y="319.8">**</text>
<line x1="374.00" x2="374.00" y1="385.8" y2="387.8" stroke="#222" stroke-width="0.9"/>
<line x1="417.90" x2="417.90" y1="385.8" y2="387.8" stroke="#222" stroke-width="0.9"/>
<line x1="461.80" x2="461.80" y1="385.8" y2="387.8" stroke="#222" stroke-width="0.9"/>
<line x1="505.70" x2="505.70" y1="385.8" y2="387.8" stroke="#222" stroke-width="0.9"/>
<line x1="549.60" x2="549.60" y1="385.8" y2="387.8" stroke="#222" stroke-width="0.9"/>
<line x1="593.50" x2="593.50" y1="385.8" y2="387.8" stroke="#222" stroke-width="0.9"/>
<line x1="637.40" x2="637.40" y1="385.8" y2="387.8" stroke="#222" stroke-width="0.9"/>
<path d="M330.1 267.8V387.8H681.3V267.8" stroke="#1a1a1a" stroke-width="1.3" fill="none"/>
<path d="M330.1 267.8H681.3" stroke="#2a2a2a" stroke-width="1" fill="none"/>
<text x="325.6" y="392.4" text-anchor="end" font-size="12">0</text>
<text x="325.6" y="361.6" text-anchor="end" font-size="12">0.5</text>
<text x="325.6" y="332.6" text-anchor="end" font-size="12">1.0</text>
<text x="325.6" y="303.4" text-anchor="end" font-size="12">1.5</text>
<text x="325.6" y="273.6" text-anchor="end" font-size="12">2.0</text>
<text transform="translate(288.1 327.8) rotate(-90)" text-anchor="middle" font-size="12.1">Post-floral organ</text>
<text transform="translate(302.6 327.6) rotate(-90)" text-anchor="middle" font-size="12.1">size</text>
<text x="345.6" y="277" font-size="11" textLength="59.5" lengthAdjust="spacing"><tspan font-style="italic">P</tspan>≤1.06E−24</text>
<text transform="translate(356.0 400.8) rotate(-45)" text-anchor="end" font-size="12">WT</text>
<text transform="translate(399.4 399.8) rotate(-45)" text-anchor="end" font-size="12"><tspan font-style="italic">35S: POS1</tspan>-P106 L9</text>
<text transform="translate(443.3 399.8) rotate(-45)" text-anchor="end" font-size="12"><tspan font-style="italic">35S: POS1</tspan>-P106 L3</text>
<text transform="translate(487.2 399.8) rotate(-45)" text-anchor="end" font-size="12"><tspan font-style="italic">35S: POS1</tspan>-P106 L5</text>
<text transform="translate(533.6 398.8) rotate(-45)" text-anchor="end" font-size="12"><tspan font-style="italic">35S: POS1</tspan>-P58L2</text>
<text transform="translate(577.5 398.8) rotate(-45)" text-anchor="end" font-size="12"><tspan font-style="italic">35S: POS1</tspan>-P58L3</text>
<text transform="translate(621.4 398.8) rotate(-45)" text-anchor="end" font-size="12"><tspan font-style="italic">35S: POS1</tspan>-P64L1</text>
<text transform="translate(665.3 398.8) rotate(-45)" text-anchor="end" font-size="12"><tspan font-style="italic">35S: POS1</tspan>-P64L2</text>
</svg>
</body></html>
